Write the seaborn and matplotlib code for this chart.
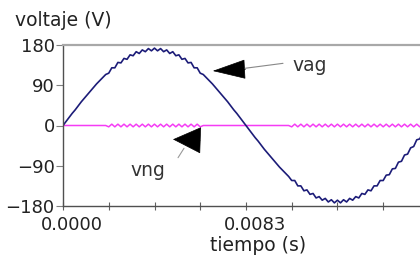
import numpy as np
import pandas as pd
import matplotlib
matplotlib.use('Agg')
import matplotlib.pyplot as plt
import matplotlib.transforms as mtransforms
import seaborn as sns

# one sample every 1/7200 s (3 degrees of the 60 Hz wave), one full period
paso = 1 / 7200

vag = [0, 9, 18, 27, 35, 44, 53, 61, 69, 77,
       85, 93, 100, 107, 114, 117, 129, 129, 141, 140,
       150, 148, 158, 156, 165, 161, 169, 165, 172, 167,
       173, 167, 172, 165, 169, 161, 165, 156, 158, 148,
       150, 140, 141, 129, 129, 117, 114, 107, 100, 93,
       85, 77, 69, 61, 53, 44, 35, 27, 18, 9,
       0, -9, -18, -27, -35, -44, -53, -61, -69, -77,
       -85, -93, -100, -107, -114, -123, -123, -135, -135, -146,
       -144, -154, -152, -162, -159, -167, -163, -171, -166, -173,
       -167, -173, -166, -171, -163, -167, -159, -162, -152, -154,
       -144, -146, -135, -135, -123, -123, -111, -110, -97, -96,
       -82, -80, -66, -64, -50, -47, -32, -30, -15, -12,
       3]

vng = [0, 0, 0, 0, 0, 0, 0, 0, 0, 0,
       0, 0, 0, 0, 0, -3, 3, -3, 3, -3,
       3, -3, 3, -3, 3, -3, 3, -3, 3, -3,
       3, -3, 3, -3, 3, -3, 3, -3, 3, -3,
       3, -3, 3, -3, 3, -3, 0, 0, 0, 0,
       0, 0, 0, 0, 0, 0, 0, 0, 0, 0,
       0, 0, 0, 0, 0, 0, 0, 0, 0, 0,
       0, 0, 0, 0, 0, -3, 3, -3, 3, -3,
       3, -3, 3, -3, 3, -3, 3, -3, 3, -3,
       3, -3, 3, -3, 3, -3, 3, -3, 3, -3,
       3, -3, 3, -3, 3, -3, 3, -3, 3, -3,
       3, -3, 3, -3, 3, -3, 3, -3, 3, -3,
       3]

x_ticks = [0.0, 0.00208, 0.00417, 0.00625, 0.00833, 0.01042, 0.0125, 0.01458, 0.01667]
x_tick_labels = ['0.0000', '', '', '', '0.0083', '', '', '', '']
y_ticks = [-180, -90, 0, 90, 180]

tiempo = np.arange(len(vag)) * paso
df = pd.DataFrame({'tiempo': tiempo, 'vag': vag, 'vng': vng})

sns.set_theme(style='ticks')
plt.rcParams['font.family'] = ['DejaVu Sans']

fig = plt.figure(figsize=(4.2, 2.58), dpi=100)
# the axes run past the right border of the picture, as in the original
ax = fig.add_axes([63 / 420, 1 - 206 / 258, 366 / 420, 161 / 258])

sns.lineplot(data=df, x='tiempo', y='vng', ax=ax, color='#f53cf5', lw=1.1, estimator=None)
sns.lineplot(data=df, x='tiempo', y='vag', ax=ax, color='#1c1c78', lw=1.2, estimator=None)

ax.set_xlim(0, 0.01667)
ax.set_ylim(-180, 180)
ax.set_xticks(x_ticks)
ax.set_xticklabels(x_tick_labels)
ax.set_yticks(y_ticks)

ax.spines['right'].set_visible(False)
ax.spines['top'].set_color('#a8a8a8')
ax.spines['top'].set_linewidth(1.6)
for s in ['left', 'bottom']:
    ax.spines[s].set_color('#505050')
    ax.spines[s].set_linewidth(1.0)

ax.tick_params(axis='x', direction='inout', length=6, width=0.8, color='#606060',
               pad=4, labelsize=13, labelcolor='#222222')
ax.tick_params(axis='y', direction='out', length=5, width=0.8, color='#808080',
               pad=1, labelsize=13, labelcolor='#222222')

# x tick labels sit a bit right of their ticks in the original
shift = mtransforms.ScaledTranslation(0.09, 0, fig.dpi_scale_trans)
for lab in ax.get_xticklabels():
    lab.set_transform(lab.get_transform() + shift)

ax.set_xlabel('tiempo (s)', fontsize=13.5, color='#222222', va='center')
ax.xaxis.set_label_coords(0.533, -0.248)
ax.set_ylabel('voltaje (V)', fontsize=13.5, color='#222222', rotation=0, ha='left', va='center')
ax.yaxis.set_label_coords(-0.131, 1.155)

# annotations: black arrow heads with thin grey shafts
ax.annotate('', xy=(0.00682, 122), xytext=(0.00832, 126),
            arrowprops=dict(arrowstyle='-|>,head_length=22,head_width=6.5', mutation_scale=1,
                            color='black', lw=0.5, shrinkA=0, shrinkB=0))
ax.annotate('', xy=(0.00830, 128), xytext=(0.01002, 139),
            arrowprops=dict(arrowstyle='-', color='#888888', lw=0.8, shrinkA=0, shrinkB=0))
ax.text(0.01043, 121, 'vag', fontsize=13.5, color='#333333', ha='left', va='baseline')

ax.annotate('', xy=(0.00501, -31), xytext=(0.00624, -33),
            arrowprops=dict(arrowstyle='-|>,head_length=19,head_width=9', mutation_scale=1,
                            color='black', lw=0.5, shrinkA=0, shrinkB=0))
ax.annotate('', xy=(0.00551, -51), xytext=(0.00524, -72),
            arrowprops=dict(arrowstyle='-', color='#999999', lw=0.8, shrinkA=0, shrinkB=0))
ax.text(0.00305, -114, 'vng', fontsize=13.5, color='#333333', ha='left', va='baseline')

fig.savefig('out.png', dpi=100)
